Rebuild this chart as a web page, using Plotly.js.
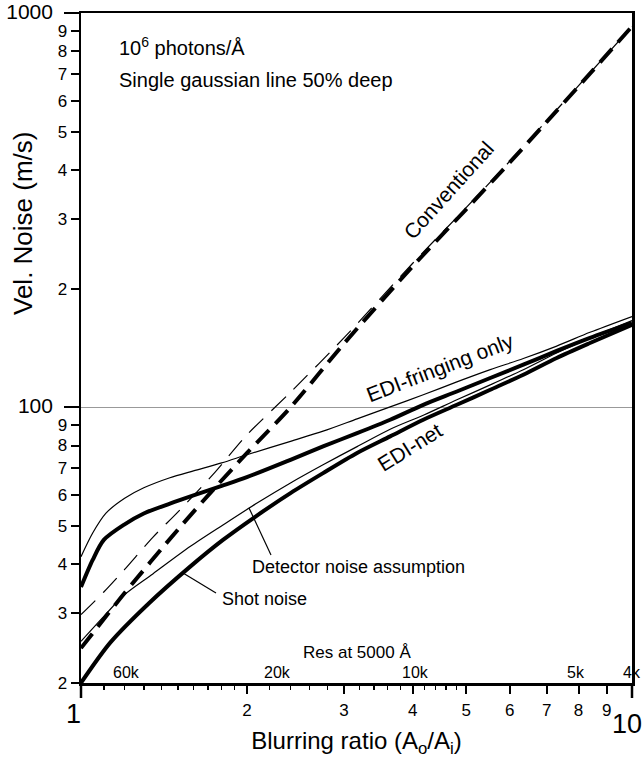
<!DOCTYPE html>
<html>
<head>
<meta charset="utf-8">
<script src="https://cdn.plot.ly/plotly-3.0.1.min.js"></script>
<style>html,body{margin:0;padding:0;background:#fff;}#chart{width:642px;height:761px;}</style>
</head>
<body>
<div id="chart"></div>
<script>
// ---- data ----
const convThickX = [1, 1.2, 1.5, 1.75, 2, 2.4, 3, 4, 5, 6, 7, 8, 10];
const convThickY = [24.5, 33.8, 49, 62.5, 76.5, 100, 145, 228, 318, 418, 530, 652, 925];

const convThinX = [1, 1.1, 1.2, 1.35, 1.5, 1.75, 2, 2.4, 3, 4, 5, 6, 7, 8, 10];
const convThinY = [29.8, 34, 38.8, 46.8, 54.3, 68.4, 85.1, 109.2, 150, 232, 321, 421, 533, 655, 925];

const fringeThinX = [1, 1.05, 1.11, 1.2, 1.3, 1.45, 1.6, 1.8, 2, 2.4, 2.75, 3.17, 3.64, 4.18, 4.81, 5.53, 6.35, 7.3, 8.39, 10];
const fringeThinY = [41.8, 48, 53.9, 58.8, 62.5, 66.3, 69, 72.3, 75.8, 82, 87, 93.5, 100.3, 107.6, 116, 124.6, 133, 143, 155, 170];

const fringeThickX = [1, 1.05, 1.1, 1.2, 1.3, 1.45, 1.6, 1.8, 2, 2.4, 2.75, 3.17, 3.64, 4.18, 4.81, 5.53, 6.35, 7.3, 8.39, 10];
const fringeThickY = [35, 41, 46.1, 50.5, 53.8, 57, 59.8, 63.2, 66.5, 73.6, 79.6, 86, 93, 101.5, 109.7, 118.7, 128.3, 139, 150, 163.7];

const detectorX = [1, 1.1, 1.2, 1.35, 1.58, 1.81, 2.08, 2.4, 2.75, 3.17, 3.64, 4.18, 4.81, 5.53, 6.35, 7.3, 8.39, 10];
const detectorY = [25.5, 29.5, 33.5, 37.8, 44.4, 50.3, 57, 64.3, 71.5, 79.5, 88, 95.5, 104.5, 114, 124.6, 137.4, 150, 166];

const shotX = [1, 1.13, 1.33, 1.58, 1.81, 2.08, 2.4, 2.75, 3.17, 3.64, 4.18, 4.81, 5.53, 6.35, 7.3, 8.39, 10];
const shotY = [20, 25.3, 31.9, 39.5, 46.1, 53, 60.6, 68.1, 76.6, 84.4, 93, 101.5, 110.8, 121, 133.4, 145.6, 162];

// tick values / labels
const xTickVals = [2, 3, 4, 5, 6, 7, 8, 9];
const xTickText = ['2', '3', '4', '5', '6', '7', '8', '9'];
const xSmallTickVals = [1.1, 1.2, 1.3, 1.4, 1.5, 1.6, 1.7, 1.8, 1.9, 2.2, 2.4, 2.6, 2.8, 3.2, 3.4, 3.6, 3.8, 4.2, 4.4, 4.6, 4.8];
const xEndLabels = ['1', '10'];
const yTickVals = [20, 30, 40, 50, 60, 70, 80, 90, 100, 200, 300, 400, 500, 600, 700, 800, 900, 1000];
const yTickText = ['2', '3', '4', '5', '6', '7', '8', '9', '100', '2', '3', '4', '5', '6', '7', '8', '9', '1000'];
const yMajorVals = [100, 1000];

// resolution labels (secondary scale) and their positions on the blurring axis
const resLabels = ['60k', '20k', '10k', '5k', '4k'];
const resAtX = [1.21, 2.27, 4.05, 7.93, 10.0];

// ---- layout helpers (pixel -> paper) ----
const L = 81, R = 632, T = 13, B = 683;
const px = v => (v - L) / (R - L);
const py = v => (B - v) / (B - T);
const FONT = 'Liberation Sans, Arial, Helvetica, sans-serif';

const traces = [
  {x: convThinX, y: convThinY, mode: 'lines', line: {color: '#000', width: 1.2, dash: '20px,11px', shape: 'spline', smoothing: 0.8}},
  {x: convThickX, y: convThickY, mode: 'lines', line: {color: '#000', width: 4, dash: '18px,9px', shape: 'spline', smoothing: 0.8}},
  {x: fringeThinX, y: fringeThinY, mode: 'lines', line: {color: '#000', width: 1.2, shape: 'spline', smoothing: 0.8}},
  {x: fringeThickX, y: fringeThickY, mode: 'lines', line: {color: '#000', width: 4, shape: 'spline', smoothing: 0.8}},
  {x: detectorX, y: detectorY, mode: 'lines', line: {color: '#000', width: 1.2, shape: 'spline', smoothing: 0.8}},
  {x: shotX, y: shotY, mode: 'lines', line: {color: '#000', width: 4, shape: 'spline', smoothing: 0.8}}
];
traces.forEach(t => { t.hoverinfo = 'skip'; t.showlegend = false; });

const big = s => '<span style="font-size:21px">' + s + '</span>\u00a0\u00a0\u00a0';
const yTickTextFmt = yTickText.map((s, i) => yMajorVals.indexOf(yTickVals[i]) >= 0 ? big(s) : s);

const annotations = [
  {text: 'Vel. Noise (m/s)', x: px(23), y: py(223), textangle: -90, font: {size: 26}},
  {text: xEndLabels[0], x: px(73), y: py(714), font: {size: 27}},
  {text: xEndLabels[1], x: px(627), y: py(724), font: {size: 27}},
  {text: '10<sup>6</sup> photons/Å', x: px(117), y: py(47), xanchor: 'left', font: {size: 20}},
  {text: 'Single gaussian line 50% deep', x: px(117), y: py(80), xanchor: 'left', font: {size: 20}},
  {text: 'Conventional', x: px(448), y: py(190), textangle: -48, font: {size: 21}},
  {text: 'EDI-fringing only', x: px(440), y: py(367), textangle: -21, font: {size: 21}},
  {text: 'EDI-net', x: px(409), y: py(447), textangle: -32, font: {size: 21}},
  {text: 'Detector noise assumption', x: px(358), y: py(567), font: {size: 18}},
  {text: 'Shot noise', x: px(264), y: py(599), font: {size: 18}},
  {text: 'Res at 5000 Å', x: px(357), y: py(652), font: {size: 17}}
];
resLabels.forEach((t, i) => {
  annotations.push({text: t, x: Math.log10(resAtX[i]), y: py(672), font: {size: 16}});
});
annotations.forEach(a => {
  a.xref = 'paper';
  a.yref = 'paper';
  if (!a.xanchor) a.xanchor = 'center';
  a.yanchor = 'middle';
  a.showarrow = false;
  a.font = Object.assign({family: FONT, color: '#000'}, a.font);
});

const shapes = [
  // leader lines
  {type: 'line', xref: 'paper', yref: 'paper', x0: px(249), y0: py(508), x1: px(271), y1: py(555), line: {color: '#000', width: 1.2}},
  {type: 'line', xref: 'paper', yref: 'paper', x0: px(183), y0: py(573), x1: px(216), y1: py(593), line: {color: '#000', width: 1.2}},
  // long end ticks on the blurring axis (at 1 and 10)
  {type: 'line', xref: 'paper', yref: 'paper', x0: 0, x1: 0, y0: 0, y1: -15 / (B - T), line: {color: '#000', width: 2.5}},
  {type: 'line', xref: 'paper', yref: 'paper', x0: 1, x1: 1, y0: 0, y1: -15 / (B - T), line: {color: '#000', width: 2.5}}
];

const layout = {
  width: 642, height: 761,
  margin: {l: L, r: 642 - R, t: T, b: 761 - B, pad: 0},
  paper_bgcolor: '#fff', plot_bgcolor: '#fff',
  font: {family: FONT, color: '#000'},
  showlegend: false,
  xaxis: {
    type: 'log', range: [0, 1], fixedrange: true,
    showline: true, linecolor: '#000', linewidth: 2.5, mirror: true,
    showgrid: false, zeroline: false,
    tickmode: 'array', tickvals: xTickVals, ticktext: xTickText,
    ticks: 'outside', ticklen: 8, tickwidth: 2, tickcolor: '#000',
    tickfont: {size: 17, family: FONT}, ticklabelstandoff: 2,
    minor: {tickmode: 'array', tickvals: xSmallTickVals, ticks: 'outside', ticklen: 4, tickwidth: 1.5, tickcolor: '#000', showgrid: false},
    title: {text: 'Blurring ratio (A<sub>o</sub>/A<sub>i</sub>)', font: {size: 24, family: FONT}, standoff: 14}
  },
  yaxis: {
    type: 'log', range: [Math.log10(20) - 0.0003, 3.0003], fixedrange: true,
    showline: true, linecolor: '#000', linewidth: 2.5, mirror: true,
    showgrid: false, zeroline: false,
    tickmode: 'array', tickvals: yTickVals, ticktext: yTickTextFmt,
    ticks: 'outside', ticklen: 8, tickwidth: 2, tickcolor: '#000',
    tickfont: {size: 17, family: FONT}, ticklabelstandoff: 0,
    minor: {tickmode: 'array', tickvals: yMajorVals, ticks: 'outside', ticklen: 15, tickwidth: 2, tickcolor: '#000',
            showgrid: true, gridcolor: '#999', gridwidth: 1}
  },
  annotations: annotations,
  shapes: shapes
};

Plotly.newPlot('chart', traces, layout, {staticPlot: true, displayModeBar: false});
</script>
</body>
</html>
